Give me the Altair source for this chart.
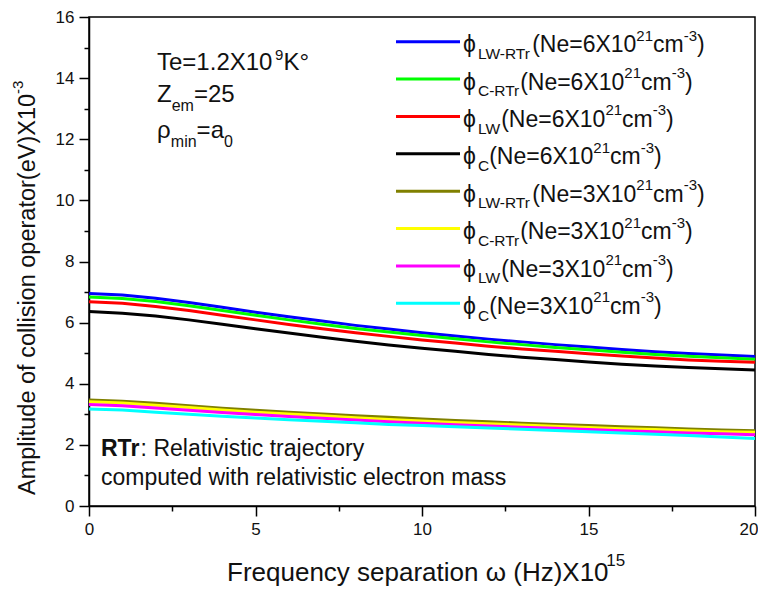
import altair as alt
import pandas as pd

# ---------------- data ----------------
omega = list(range(0, 21))
phi_lw_rtr_6 = [6.95, 6.90, 6.80, 6.66, 6.50, 6.34, 6.19, 6.05, 5.91, 5.79, 5.67, 5.56, 5.46, 5.37, 5.28, 5.20, 5.12, 5.05, 4.99, 4.94, 4.89]
phi_c_rtr_6 = [6.84, 6.79, 6.69, 6.55, 6.40, 6.24, 6.09, 5.95, 5.81, 5.69, 5.58, 5.47, 5.37, 5.28, 5.19, 5.11, 5.03, 4.96, 4.90, 4.85, 4.80]
phi_lw_6 = [6.68, 6.63, 6.53, 6.40, 6.24, 6.09, 5.94, 5.80, 5.67, 5.55, 5.43, 5.33, 5.23, 5.14, 5.06, 4.98, 4.91, 4.84, 4.78, 4.74, 4.70]
phi_c_6 = [6.36, 6.31, 6.22, 6.09, 5.95, 5.80, 5.66, 5.52, 5.39, 5.27, 5.16, 5.06, 4.96, 4.87, 4.79, 4.71, 4.64, 4.58, 4.53, 4.49, 4.45]
phi_lw_rtr_3 = [3.47, 3.43, 3.36, 3.28, 3.20, 3.13, 3.07, 3.01, 2.95, 2.90, 2.85, 2.80, 2.76, 2.71, 2.67, 2.63, 2.59, 2.56, 2.52, 2.49, 2.46]
phi_c_rtr_3 = [3.41, 3.37, 3.30, 3.22, 3.14, 3.07, 3.01, 2.95, 2.89, 2.83, 2.78, 2.73, 2.69, 2.65, 2.61, 2.57, 2.53, 2.50, 2.46, 2.43, 2.41]
phi_lw_3 = [3.32, 3.28, 3.21, 3.13, 3.06, 2.99, 2.93, 2.87, 2.81, 2.76, 2.71, 2.66, 2.62, 2.58, 2.54, 2.50, 2.46, 2.43, 2.39, 2.36, 2.33]
phi_c_3 = [3.17, 3.14, 3.07, 3.00, 2.94, 2.88, 2.82, 2.77, 2.72, 2.67, 2.63, 2.59, 2.55, 2.51, 2.47, 2.43, 2.39, 2.35, 2.31, 2.26, 2.21]

series_values = [phi_lw_rtr_6, phi_c_rtr_6, phi_lw_6, phi_c_6,
                 phi_lw_rtr_3, phi_c_rtr_3, phi_lw_3, phi_c_3]
series_ids = ["s1", "s2", "s3", "s4", "s5", "s6", "s7", "s8"]
legend_subs = ["LW-RTr", "C-RTr", "LW", "C", "LW-RTr", "C-RTr", "LW", "C"]
legend_ne = ["6", "6", "6", "6", "3", "3", "3", "3"]
series_colors = ["#0000FF", "#00FF00", "#FF0000", "#000000",
                 "#808000", "#FFFF00", "#FF00FF", "#00FFFF"]

x_ticks = [0, 2.5, 5, 7.5, 10, 12.5, 15, 17.5, 20]
y_ticks = list(range(0, 17))

# ---------------- layout helpers ----------------
PX0, PX1 = 89, 755     # pixel of omega=0 and omega=20
PY0, PY1 = 506, 17     # pixel of value=0 and value=16
W, H = PX1 - PX0, PY0 - PY1
FONT = "Liberation Sans"
PHI = "\u03d5"

def dx(px):
    return (px - PX0) / W * 20.0

def dy(py):
    return (PY0 - py) / H * 16.0

ARIAL = {
    " ": 278, "(": 333, ")": 333, "-": 333, ".": 278, ":": 278, "=": 584, "°": 400,
    PHI: 650, "ρ": 577, "ω": 690,
    "a": 556, "b": 556, "c": 500, "d": 556, "e": 556, "f": 278, "g": 556, "h": 556,
    "i": 222, "j": 222, "k": 500, "l": 222, "m": 833, "n": 556, "o": 556, "p": 556,
    "q": 556, "r": 333, "s": 500, "t": 278, "u": 556, "v": 500, "w": 722, "x": 500,
    "y": 500, "z": 500,
    "A": 667, "C": 722, "E": 667, "F": 611, "H": 722, "K": 667, "L": 556, "N": 722,
    "R": 722, "T": 611, "V": 667, "W": 944, "X": 667, "Z": 611,
}
for d in "0123456789":
    ARIAL[d] = 556
BOLD = {"R": 722, "T": 611, "r": 389}

def tw(s, fs, bold=False):
    tab = BOLD if bold else ARIAL
    return sum(tab.get(ch, ARIAL.get(ch, 556)) for ch in s) * fs / 1000.0

def build(parts, x0, base, rows, angle=0):
    """parts: list of (text, fontsize, baseline_shift). Horizontal or rotated 270."""
    pos = x0
    for text, fs, shift in parts:
        if angle == 0:
            rows.append({"x": dx(pos), "y": dy(base + shift), "t": text, "fs": fs})
        else:
            rows.append({"x": dx(base + shift), "y": dy(pos), "t": text, "fs": fs})
        w = tw(text, fs)
        pos = pos + w if angle == 0 else pos - w

# ---------------- tables ----------------
line_rows = []
for sid, vals in zip(series_ids, series_values):
    for o, v in zip(omega, vals):
        line_rows.append({"omega": o, "value": v, "series": sid})
lines_df = pd.DataFrame(line_rows)

# legend
LEG_Y0, LEG_DY = 41.7, 37.37
leg_line_rows, text_rows = [], []
MAIN, SUB, SUP = 23, 15.5, 15
for i, (sid, sub, ne) in enumerate(zip(series_ids, legend_subs, legend_ne)):
    ly = LEG_Y0 + i * LEG_DY
    leg_line_rows.append({"x1": dx(396), "x2": dx(460), "y": dy(ly), "series": sid})
    build([(PHI, MAIN, 0), (sub, SUB, 6.7), ("(Ne=" + ne + "X10", MAIN, 0),
           ("21", SUP, -11.6), ("cm", MAIN, 0), ("-3", SUP, -11.6), (")", MAIN, 0)],
          463, ly + 10.6, text_rows)
leg_lines_df = pd.DataFrame(leg_line_rows)

# top-left annotation
build([("Te=1.2X10", 24, 0), ("9", 15, -10), ("K°", 24, 0)], 157, 70, text_rows)
build([("Z", 24, 0), ("em", 16, 9), ("=25", 24, 0)], 157, 102, text_rows)
build([("ρ", 24, 0), ("min", 16, 9), ("=a", 24, 0), ("0", 16, 9)], 157, 138, text_rows)

# bottom-left annotation (regular part)
RT_FS = 23
bold_rows = [{"x": dx(101), "y": dy(456), "t": "RTr", "fs": RT_FS}]
text_rows.append({"x": dx(101 + tw("RTr", RT_FS, bold=True)), "y": dy(456),
                  "t": ": Relativistic trajectory", "fs": RT_FS})
text_rows.append({"x": dx(101), "y": dy(485), "t": "computed with relativistic electron mass",
                  "fs": RT_FS})

# x axis title
build([("Frequency separation ω (Hz)X10", 26, 0), ("15", 17, -15)], 227, 581, text_rows)
text_df = pd.DataFrame(text_rows)
bold_df = pd.DataFrame(bold_rows)

# y axis title (rotated)
ytitle_rows = []
build([("Amplitude of collision operator(eV)X10", 23.5, 0), ("-3", 15, -12)],
      495, 35, ytitle_rows, angle=270)
ytitle_df = pd.DataFrame(ytitle_rows)

# ---------------- chart ----------------
xs = alt.Scale(domain=[0, 20], nice=False, zero=False)
ys = alt.Scale(domain=[0, 16], nice=False, zero=False)
cs = alt.Scale(domain=series_ids, range=series_colors)

x_axis = alt.Axis(
    values=x_ticks, title=None, grid=False, labelFlush=False, labelOverlap=False,
    labelExpr="datum.value % 5 == 0 ? datum.label : ''",
    labelAlign={"condition": {"test": "datum.value == 20", "value": "right"}, "value": "center"},
    labelOffset={"condition": {"test": "datum.value == 20", "value": 3}, "value": 0},
    tickSize={"condition": {"test": "datum.value % 5 != 0", "value": 5}, "value": 10},
    tickColor="black", tickWidth=1.5, domainColor="black", domainWidth=1.5,
    labelFont=FONT, labelFontSize=17, labelColor="#111", labelPadding=5,
)
y_axis = alt.Axis(
    values=y_ticks, title=None, grid=False, labelFlush=False, labelOverlap=False,
    labelExpr="datum.value % 2 == 0 ? datum.label : ''",
    tickSize={"condition": {"test": "datum.value % 2 != 0", "value": 5}, "value": 10},
    tickColor="black", tickWidth=1.5, domainColor="black", domainWidth=1.5,
    labelFont=FONT, labelFontSize=17, labelColor="#111", labelPadding=5,
)

lines = alt.Chart(lines_df).mark_line(strokeWidth=3).encode(
    x=alt.X("omega:Q", scale=xs, axis=x_axis),
    y=alt.Y("value:Q", scale=ys, axis=y_axis),
    color=alt.Color("series:N", scale=cs, legend=None),
    detail="series:N",
)

leg_lines = alt.Chart(leg_lines_df).mark_rule(strokeWidth=3).encode(
    x=alt.X("x1:Q", scale=xs, axis=x_axis),
    x2="x2:Q",
    y=alt.Y("y:Q", scale=ys, axis=y_axis),
    color=alt.Color("series:N", scale=cs, legend=None),
)

def text_layer(df, **kw):
    return alt.Chart(df).mark_text(align="left", baseline="alphabetic", font=FONT,
                                   color="#111", **kw).encode(
        x=alt.X("x:Q", scale=xs, axis=x_axis),
        y=alt.Y("y:Q", scale=ys, axis=y_axis),
        text="t:N",
        size=alt.Size("fs:Q", scale=None, legend=None),
    )

texts = text_layer(text_df)
bold_texts = text_layer(bold_df, fontWeight="bold")
ytitle = text_layer(ytitle_df, angle=270)

chart = alt.layer(lines, leg_lines, texts, bold_texts, ytitle).properties(
    width=W, height=H,
    autosize=alt.AutoSizeParams(type="none"),
    padding={"left": PX0 - 8, "top": PY1 - 8, "right": 3, "bottom": 81},
    background="white",
).configure_view(stroke="black", strokeWidth=1.5)

chart.save("out.html", embed_options={"renderer": "svg", "actions": False})
